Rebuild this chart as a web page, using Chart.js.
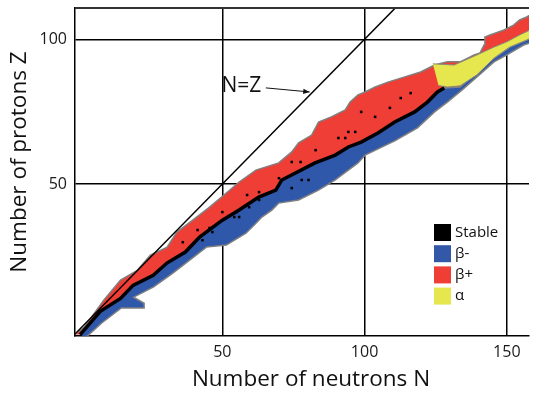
<!DOCTYPE html>
<html>
<head>
<meta charset="utf-8">
<script src="https://cdn.jsdelivr.net/npm/chart.js@4.4.1/dist/chart.umd.min.js"></script>
<style>
  html, body { margin: 0; padding: 0; background: #fff; }
  #wrap { width: 533px; height: 393px; }
</style>
</head>
<body>
<div id="wrap"><canvas id="nuclideChart"></canvas></div>
<script>
// Tick values on both axes
const neutronTicks = [50, 100, 150];
const protonTicks = [50, 100];

// Proton-rich edge of the band (upper-left boundary)
const dripTopN = [-2, 1.4, 8.3, 14.2, 20.1, 24.7, 30.6, 34, 39.6, 45.5, 51.4, 55.9, 61.8, 69.8, 74.4, 76.8, 81.4, 83.8, 88.3, 93.2, 94.9, 97.7, 100.2, 103.7, 108.2, 114.1, 119.7, 124.6, 129.1, 133.6, 138.5, 140.6, 142, 142.3, 144.1, 149, 152.4, 154.5, 157, 160];
const dripTopZ = [-2, 0.5, 9.9, 16.8, 20.2, 25.4, 28.2, 33.4, 37.5, 42, 46.9, 50.7, 54.8, 57.3, 61.1, 64.2, 66.9, 71.4, 73.2, 75.6, 78.3, 80.8, 81.8, 83.5, 85.2, 87, 88.7, 91.1, 92.2, 92.2, 94.6, 95.3, 98, 100.8, 101.5, 103.2, 104.9, 106.7, 107.7, 109.5];

// Valley of stability (border between beta+ and beta- regions)
const stableN = [0, 7.1, 14.2, 18.6, 25.7, 30.5, 37, 42, 50, 55.9, 62.8, 68.8, 70.9, 82.6, 89.7, 94.3, 98.8, 104.7, 110.6, 117.6, 122.1, 125.6, 128, 133.6, 139.5, 145.5, 151, 160];
const stableZ = [-2, 6, 10.5, 15, 18.5, 22.7, 26.5, 31.7, 37.5, 41, 45.5, 47.9, 51.4, 57.3, 60, 62.8, 64.5, 67.6, 71.4, 74.9, 78.3, 81.8, 83.2, 83.5, 88.7, 93.5, 97.3, 101];

// Neutron-rich edge of the band (lower-right boundary)
const dripBottomN = [2, 7.6, 14.5, 22.5, 22.5, 18.8, 25.7, 32.6, 38.5, 44.4, 51.4, 58.3, 61.9, 63.9, 67.4, 69.8, 76.8, 83.8, 89.7, 97.7, 100.2, 110.6, 118.6, 124.6, 129.1, 134.3, 139.5, 145.5, 150, 155.9, 160];
const dripBottomZ = [-3, 2, 7.2, 7.2, 8.8, 10.9, 14.4, 19.2, 23.7, 28.2, 28.9, 33, 36.5, 38.6, 41, 43.4, 44.5, 47.9, 51.4, 57.3, 60, 64.9, 69.4, 74.9, 78.3, 82.5, 87, 92.2, 94.6, 98, 99.3];

// Alpha-decay region (heavy nuclei)
const alphaTopN = [124, 131.5, 139.5, 145.5, 150, 154.5, 160];
const alphaTopZ = [91.5, 91.1, 94.6, 97.3, 99.1, 101.5, 104];
const alphaBottomN = [126, 129.1, 133.6, 139.5, 145.5, 151, 160];
const alphaBottomZ = [84, 83.5, 83.9, 87.7, 93.5, 97.3, 101];

// Isolated stable nuclides sitting off the main stability line
const stableDotN = [94.3, 96.7, 90.8, 93.2, 82.8, 74.4, 77.5, 69.9, 77.9, 80.3, 74.4, 50, 54.9, 58.7, 62.9, 45.5, 41.3, 36.1, 55.9, 54.2, 46.5, 43, 59.4, 62.9, 116.2, 112.7, 108.9, 103.7, 98.8, 114.1, 101.9];
const stableDotZ = [68, 68, 65.9, 65.9, 61.7, 57.6, 57.6, 52, 51.4, 51.4, 48.6, 40.3, 40.3, 46.2, 47.2, 34.8, 34.1, 29.9, 38.6, 38.6, 33.4, 30.6, 42, 44.5, 81.4, 79.7, 76.3, 73.2, 74.9, 73.2, 66.2];

// Legend entries
const legendLabels = ['Stable', 'β-', 'β+', 'α'];
const legendColors = ['#000000', '#3358A8', '#EE3E36', '#E6E64E'];

const toPoints = (xs, ys) => xs.map((x, i) => ({ x: x, y: ys[i] }));

const stablePts = toPoints(stableN, stableZ);
const redShape = toPoints(dripTopN, dripTopZ).concat(stablePts.slice().reverse());
const blueShape = stablePts.concat(toPoints(dripBottomN, dripBottomZ).reverse());
const alphaShape = toPoints(alphaTopN, alphaTopZ).concat(toPoints(alphaBottomN, alphaBottomZ).reverse());
const stableLine = stablePts.filter(p => p.x <= 128);

Chart.defaults.font.family = "'Open Sans', 'DejaVu Sans', sans-serif";
Chart.defaults.color = '#1a1a1a';

// Draws axis titles, the "N=Z" label with its arrow, the top frame line and the legend box
const extrasPlugin = {
    id: 'extras',
    afterDraw(chart) {
        const ctx = chart.ctx;
        const area = chart.chartArea;
        const xs = chart.scales.x;
        const ys = chart.scales.y;
        ctx.save();

        // top frame line
        ctx.strokeStyle = '#333';
        ctx.lineWidth = 2;
        ctx.beginPath();
        ctx.moveTo(area.left, area.top);
        ctx.lineTo(area.right, area.top);
        ctx.stroke();

        // axis titles
        ctx.fillStyle = '#111';
        ctx.font = "22.5px 'Open Sans'";
        ctx.textAlign = 'center';
        ctx.textBaseline = 'middle';
        ctx.fillText('Number of neutrons N', (area.left + area.right) / 2 + 9, chart.height - 13);
        ctx.save();
        ctx.translate(20, (area.top + area.bottom) / 2 - 10);
        ctx.rotate(-Math.PI / 2);
        ctx.fillText('Number of protons Z', 0, 0);
        ctx.restore();

        // N=Z label and arrow
        ctx.font = "21px 'Open Sans'";
        ctx.textAlign = 'left';
        ctx.fillText('N=Z', xs.getPixelForValue(49.7), ys.getPixelForValue(83.9));
        const x0 = xs.getPixelForValue(65.3), y0 = ys.getPixelForValue(83.2);
        const x1 = xs.getPixelForValue(80.7), y1 = ys.getPixelForValue(81.8);
        ctx.strokeStyle = '#111';
        ctx.lineWidth = 1;
        ctx.beginPath();
        ctx.moveTo(x0, y0);
        ctx.lineTo(x1, y1);
        ctx.stroke();
        const ang = Math.atan2(y1 - y0, x1 - x0);
        ctx.beginPath();
        ctx.moveTo(x1, y1);
        ctx.lineTo(x1 - 7 * Math.cos(ang - 0.4), y1 - 7 * Math.sin(ang - 0.4));
        ctx.lineTo(x1 - 7 * Math.cos(ang + 0.4), y1 - 7 * Math.sin(ang + 0.4));
        ctx.closePath();
        ctx.fill();

        // legend
        const lx = area.right - 95;
        const ly = area.top + 216;
        ctx.font = "15px 'Open Sans'";
        legendLabels.forEach((label, i) => {
            ctx.fillStyle = legendColors[i];
            ctx.fillRect(lx, ly + i * 21.2, 17, 17);
            ctx.fillStyle = '#111';
            ctx.fillText(label, lx + 21, ly + i * 21.2 + 8.5);
        });
        ctx.restore();
    }
};

const ctx = document.getElementById('nuclideChart').getContext('2d');
const chart = new Chart(ctx, {
    type: 'scatter',
    data: {
        datasets: [
            {
                label: 'N=Z',
                data: [{ x: -5, y: -5 }, { x: 130, y: 130 }],
                showLine: true,
                borderColor: '#000',
                borderWidth: 1.5,
                pointRadius: 0,
                order: 0
            },
            {
                label: 'Stable',
                data: stableLine,
                showLine: true,
                borderColor: '#000',
                borderWidth: 3.5,
                pointRadius: 0,
                order: 1
            },
            {
                label: 'Stable dots',
                data: toPoints(stableDotN, stableDotZ),
                showLine: false,
                pointStyle: 'rect',
                pointRadius: 1.8,
                backgroundColor: '#000',
                borderWidth: 0,
                order: 1
            },
            {
                label: 'α',
                data: alphaShape,
                showLine: true,
                fill: 'shape',
                backgroundColor: legendColors[3],
                borderColor: '#8a8a7a',
                borderWidth: 1,
                pointRadius: 0,
                order: 2
            },
            {
                label: 'β-',
                data: blueShape,
                showLine: true,
                fill: 'shape',
                backgroundColor: '#2F57AA',
                borderColor: '#808080',
                borderWidth: 1.5,
                pointRadius: 0,
                order: 3
            },
            {
                label: 'β+',
                data: redShape,
                showLine: true,
                fill: 'shape',
                backgroundColor: '#EE3E36',
                borderColor: '#808080',
                borderWidth: 1.5,
                pointRadius: 0,
                order: 4
            }
        ]
    },
    options: {
        responsive: true,
        maintainAspectRatio: false,
        animation: false,
        layout: {
            padding: { top: 8, right: 0, left: 0, bottom: 0 }
        },
        plugins: {
            legend: { display: false },
            tooltip: { enabled: false }
        },
        scales: {
            x: {
                type: 'linear',
                min: -1.8,
                max: 157.8,
                z: 1,
                afterBuildTicks: s => { s.ticks = neutronTicks.map(v => ({ value: v })); },
                afterFit: s => { s.height = 57; s.paddingLeft = 0; s.paddingRight = 0; },
                ticks: {
                    padding: 7,
                    font: { size: 16 },
                    color: '#1a1a1a'
                },
                grid: {
                    color: '#000',
                    lineWidth: 1.5,
                    drawTicks: false
                },
                border: { color: '#000', width: 1.5 }
            },
            y: {
                type: 'linear',
                min: -2.5,
                max: 110.8,
                z: 1,
                afterBuildTicks: s => { s.ticks = protonTicks.map(v => ({ value: v })); },
                afterFit: s => { s.width = 75; s.paddingTop = 0; s.paddingBottom = 0; },
                ticks: {
                    padding: 8,
                    font: { size: 16 },
                    color: '#1a1a1a'
                },
                grid: {
                    color: '#000',
                    lineWidth: 1.5,
                    drawTicks: false
                },
                border: { color: '#000', width: 1.5 }
            }
        }
    },
    plugins: [extrasPlugin]
});
</script>
</body>
</html>
